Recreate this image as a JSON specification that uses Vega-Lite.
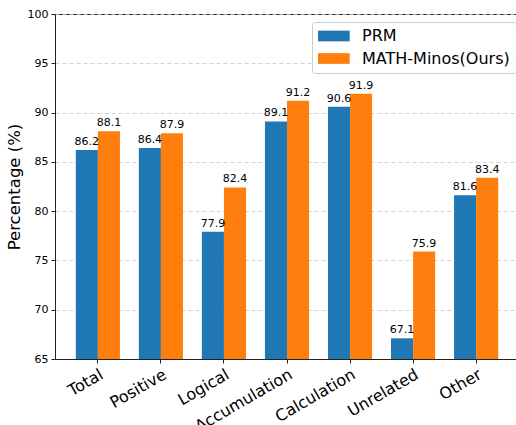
{
  "$schema": "https://vega.github.io/schema/vega-lite/v6.json",
  "width": 464,
  "height": 345,
  "autosize": {"type": "none"},
  "padding": {"left": 55, "top": 14, "right": 0, "bottom": 66},
  "background": "white",
  "config": {
    "font": "DejaVu Sans",
    "view": {"stroke": "#222222", "strokeWidth": 1}
  },
  "data": {
    "values": [
      {"cat": "Total", "model": "PRM", "v": 86.2},
      {"cat": "Total", "model": "MATH-Minos(Ours)", "v": 88.1},
      {"cat": "Positive", "model": "PRM", "v": 86.4},
      {"cat": "Positive", "model": "MATH-Minos(Ours)", "v": 87.9},
      {"cat": "Logical", "model": "PRM", "v": 77.9},
      {"cat": "Logical", "model": "MATH-Minos(Ours)", "v": 82.4},
      {"cat": "Accumulation", "model": "PRM", "v": 89.1},
      {"cat": "Accumulation", "model": "MATH-Minos(Ours)", "v": 91.2},
      {"cat": "Calculation", "model": "PRM", "v": 90.6},
      {"cat": "Calculation", "model": "MATH-Minos(Ours)", "v": 91.9},
      {"cat": "Unrelated", "model": "PRM", "v": 67.1},
      {"cat": "Unrelated", "model": "MATH-Minos(Ours)", "v": 75.9},
      {"cat": "Other", "model": "PRM", "v": 81.6},
      {"cat": "Other", "model": "MATH-Minos(Ours)", "v": 83.4}
    ]
  },
  "encoding": {
    "x": {
      "field": "cat", "type": "nominal", "sort": null,
      "scale": {"paddingInner": 0.3, "paddingOuter": 0.33},
      "axis": {
        "title": null, "labelAngle": -30, "labelAlign": "right", "labelBaseline": "top",
        "labelFontSize": 16, "labelColor": "#000", "tickColor": "#222", "domainColor": "#222",
        "tickSize": 4, "labelPadding": 3, "labelDx": -7, "labelDy": -4, "grid": false
      }
    },
    "xOffset": {"field": "model", "type": "nominal", "sort": ["PRM", "MATH-Minos(Ours)"]},
    "y": {
      "field": "v", "type": "quantitative",
      "scale": {"domain": [65, 100], "zero": false, "nice": false},
      "axis": {
        "title": "Percentage (%)", "titleFontSize": 16.5, "titleFontWeight": "normal", "titleColor": "#000",
        "titlePadding": 5,
        "values": [65, 70, 75, 80, 85, 90, 95, 100],
        "labelFontSize": 11, "labelColor": "#000", "tickColor": "#222", "domainColor": "#222", "tickSize": 4,
        "labelPadding": 3,
        "grid": true, "gridDash": [4, 3], "gridColor": "#c8c8c8", "gridWidth": 0.8
      }
    }
  },
  "layer": [
    {
      "mark": {"type": "bar"},
      "encoding": {
        "y2": {"datum": 65},
        "color": {
          "field": "model", "type": "nominal", "sort": ["PRM", "MATH-Minos(Ours)"],
          "scale": {"domain": ["PRM", "MATH-Minos(Ours)"], "range": ["#1f77b4", "#ff7f0e"]},
          "legend": {
            "title": null, "orient": "none", "legendX": 257, "legendY": 8,
            "symbolType": "M-1,-0.67h3.96v1.34h-3.96z", "symbolSize": 256, "symbolStrokeWidth": 0,
            "labelFontSize": 16, "labelColor": "#000", "labelOffset": 28, "rowPadding": 6.5,
            "padding": 6, "strokeColor": "#cccccc", "fillColor": "rgba(255,255,255,0.8)", "cornerRadius": 3
          }
        }
      }
    },
    {
      "mark": {"type": "text", "baseline": "bottom", "dy": -3, "fontSize": 11, "color": "#000"},
      "encoding": {"text": {"field": "v", "type": "quantitative", "format": ".1f"}}
    }
  ]
}
